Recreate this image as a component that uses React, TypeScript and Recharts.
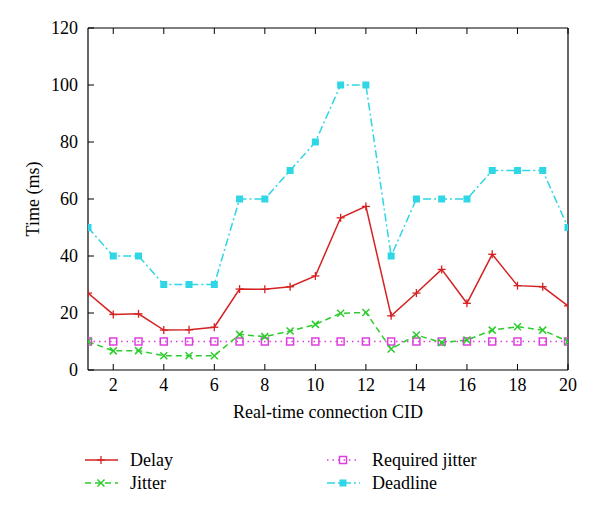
import React from "react";
import { LineChart, Line, XAxis, YAxis } from "recharts";

const CID = [1, 2, 3, 4, 5, 6, 7, 8, 9, 10, 11, 12, 13, 14, 15, 16, 17, 18, 19, 20];
const DELAY = [27, 19.5, 19.7, 14, 14.1, 15, 28.4, 28.3, 29.2, 33, 53.4, 57.4, 19, 27, 35.3, 23.4, 40.6, 29.6, 29.2, 22.5];
const JITTER = [10, 6.7, 6.8, 5, 5, 5, 12.5, 11.7, 13.7, 16, 19.9, 20.2, 7.4, 12.3, 9.6, 10.5, 14, 15.2, 14, 10];
const REQUIRED = [10, 10, 10, 10, 10, 10, 10, 10, 10, 10, 10, 10, 10, 10, 10, 10, 10, 10, 10, 10];
const DEADLINE = [50, 40, 40, 30, 30, 30, 60, 60, 70, 80, 100, 100, 40, 60, 60, 60, 70, 70, 70, 50];

const X_TICKS = [2, 4, 6, 8, 10, 12, 14, 16, 18, 20];
const Y_TICKS = [0, 20, 40, 60, 80, 100, 120];

const RED = "#d42222";
const GREEN = "#2ccc2c";
const MAGENTA = "#e03ee0";
const CYAN = "#2ed6e6";
const FONT = "'Liberation Serif', 'DejaVu Serif', serif";

const data = CID.map((c, i) => ({
  cid: c,
  delay: DELAY[i],
  jitter: JITTER[i],
  required: REQUIRED[i],
  deadline: DEADLINE[i],
}));

type DotProps = { cx?: number; cy?: number; index?: number };

const PlusDot = ({ cx = 0, cy = 0 }: DotProps) => (
  <g stroke={RED} strokeWidth={1.3}>
    <line x1={cx - 4} y1={cy} x2={cx + 4} y2={cy} />
    <line x1={cx} y1={cy - 4} x2={cx} y2={cy + 4} />
  </g>
);

const CrossDot = ({ cx = 0, cy = 0 }: DotProps) => (
  <g stroke={GREEN} strokeWidth={1.5}>
    <line x1={cx - 3.5} y1={cy - 3.5} x2={cx + 3.5} y2={cy + 3.5} />
    <line x1={cx - 3.5} y1={cy + 3.5} x2={cx + 3.5} y2={cy - 3.5} />
  </g>
);

const OpenSquare = ({ cx = 0, cy = 0 }: DotProps) => (
  <rect x={cx - 3.5} y={cy - 3.5} width={7} height={7} fill="none" stroke={MAGENTA} strokeWidth={1.5} />
);

const FilledSquare = ({ cx = 0, cy = 0 }: DotProps) => (
  <rect x={cx - 3.5} y={cy - 3.5} width={7} height={7} fill={CYAN} stroke="none" />
);

const tickStyle = { fontSize: 18, fill: "#000", fontFamily: FONT };

const LEGEND = [
  { name: "Delay", color: RED, dash: undefined, Dot: PlusDot, x: 85, y: 460 },
  { name: "Jitter", color: GREEN, dash: "6 4", Dot: CrossDot, x: 85, y: 483 },
  { name: "Required jitter", color: MAGENTA, dash: "1.5 4", Dot: OpenSquare, x: 327, y: 460 },
  { name: "Deadline", color: CYAN, dash: "8 3 2 3", Dot: FilledSquare, x: 327, y: 483 },
];

export default function App() {
  return (
    <div style={{ position: "absolute", left: 0, top: 0, width: 600, height: 514, background: "#fff" }}>
      <LineChart width={600} height={440} data={data} margin={{ top: 27, right: 31, bottom: 0, left: 0 }}>
        <XAxis
          xAxisId="bottom"
          dataKey="cid"
          type="number"
          domain={[1, 20]}
          ticks={X_TICKS}
          allowDataOverflow
          height={70}
          tickSize={-6}
          tickMargin={14}
          tick={tickStyle}
          stroke="#000"
          axisLine={{ stroke: "#000", strokeWidth: 1.2 }}
          tickLine={{ stroke: "#000" }}
          label={{ value: "Real-time connection CID", position: "insideBottom", offset: 22, style: { ...tickStyle, textAnchor: "middle" } }}
        />
        <XAxis
          xAxisId="top"
          orientation="top"
          dataKey="cid"
          type="number"
          domain={[1, 20]}
          ticks={X_TICKS}
          allowDataOverflow
          height={1}
          tickSize={-6}
          tickMargin={0}
          tickFormatter={() => ""}
          stroke="#000"
          axisLine={{ stroke: "#000", strokeWidth: 1.2 }}
          tickLine={{ stroke: "#000" }}
        />
        <YAxis
          yAxisId="left"
          domain={[0, 120]}
          ticks={Y_TICKS}
          width={88}
          tickSize={-6}
          tickMargin={16}
          tick={tickStyle}
          axisLine={{ stroke: "#000", strokeWidth: 1.2 }}
          tickLine={{ stroke: "#000" }}
          label={{ value: "Time (ms)", angle: -90, position: "insideLeft", offset: 33, style: { ...tickStyle, textAnchor: "middle" } }}
        />
        <YAxis
          yAxisId="right"
          orientation="right"
          domain={[0, 120]}
          ticks={Y_TICKS}
          width={1}
          tickSize={-6}
          tickMargin={0}
          tickFormatter={() => ""}
          stroke="#000"
          axisLine={{ stroke: "#000", strokeWidth: 1.2 }}
          tickLine={{ stroke: "#000" }}
        />
        <Line xAxisId="bottom" yAxisId="left" dataKey="required" stroke={MAGENTA} strokeWidth={1.5} strokeDasharray="1.5 4" dot={<OpenSquare />} isAnimationActive={false} />
        <Line xAxisId="bottom" yAxisId="left" dataKey="deadline" stroke={CYAN} strokeWidth={1.5} strokeDasharray="8 3 2 3" dot={<FilledSquare />} isAnimationActive={false} />
        <Line xAxisId="bottom" yAxisId="left" dataKey="jitter" stroke={GREEN} strokeWidth={1.5} strokeDasharray="6 4" dot={<CrossDot />} isAnimationActive={false} />
        <Line xAxisId="bottom" yAxisId="left" dataKey="delay" stroke={RED} strokeWidth={1.5} dot={<PlusDot />} isAnimationActive={false} />
      </LineChart>
      <svg width={600} height={74} style={{ position: "absolute", left: 0, top: 440 }}>
        {LEGEND.map((l) => (
          <g key={l.name}>
            <line x1={l.x} y1={l.y - 440} x2={l.x + 33} y2={l.y - 440} stroke={l.color} strokeWidth={1.5} strokeDasharray={l.dash} />
            <l.Dot cx={l.x + 16} cy={l.y - 440} />
            <text x={l.x + 45} y={l.y - 440} dy="0.35em" style={tickStyle}>
              {l.name}
            </text>
          </g>
        ))}
      </svg>
    </div>
  );
}
